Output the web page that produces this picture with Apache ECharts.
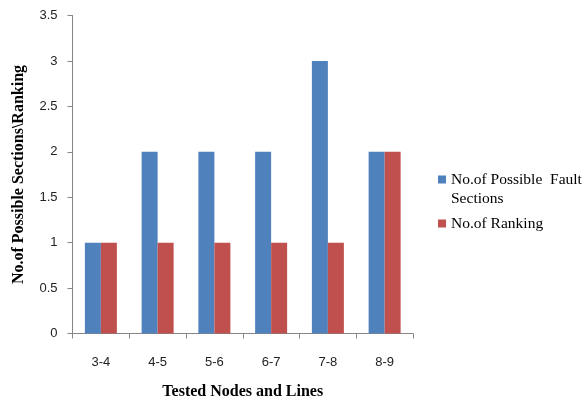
<!DOCTYPE html>
<html>
<head>
<meta charset="utf-8">
<script src="https://cdn.jsdelivr.net/npm/echarts@6/dist/echarts.min.js"></script>
<style>
  html, body { margin: 0; padding: 0; background: #fff; }
  #chart { width: 584px; height: 399px; }
</style>
</head>
<body>
<div id="chart"></div>
<script>
// Tested node pairs / lines
const categories = ['3-4', '4-5', '5-6', '6-7', '7-8', '8-9'];
// Number of possible fault sections per test
const possibleFaultSections = [1, 2, 2, 2, 3, 2];
// Ranking of each test
const ranking = [1, 1, 1, 1, 1, 2];
// Value axis ticks
const yTicks = [0, 0.5, 1, 1.5, 2, 2.5, 3, 3.5];

const seriesNames = ['No.of Possible  Fault Sections', 'No.of Ranking'];
// Legend labels, the first one wrapped onto two lines
const legendLabels = {
  'No.of Possible  Fault Sections': 'No.of Possible  Fault\nSections',
  'No.of Ranking': 'No.of Ranking'
};

const serif = '"Liberation Serif", "Times New Roman", serif';
const sans = '"Liberation Sans", Arial, sans-serif';
const axisGrey = '#868686';

const chart = echarts.init(document.getElementById('chart'), null, { renderer: 'canvas' });

chart.setOption({
  animation: false,
  backgroundColor: '#ffffff',
  grid: {
    left: 72.5, right: 171, top: 15.5, bottom: 65.5,
    containLabel: false,
    outerBoundsMode: 'none'
  },
  legend: {
    orient: 'vertical',
    left: 433,
    top: 146,
    itemWidth: 8,
    itemHeight: 8,
    itemGap: 6,
    icon: 'rect',
    selectedMode: false,
    data: seriesNames,
    // a leading blank line keeps the swatch level with the first text line
    formatter: function (name) {
      const label = legendLabels[name];
      return label.indexOf('\n') >= 0 ? '\n' + label : label;
    },
    textStyle: {
      fontFamily: serif,
      fontSize: 15.5,
      lineHeight: 19,
      color: '#000'
    }
  },
  xAxis: {
    type: 'category',
    data: categories,
    name: 'Tested Nodes and Lines',
    nameLocation: 'middle',
    nameGap: 50,
    nameTextStyle: { fontFamily: serif, fontSize: 16, fontWeight: 'bold', color: '#000' },
    axisLine: { lineStyle: { color: axisGrey, width: 1 } },
    axisTick: { show: true, inside: false, length: 5, alignWithLabel: false, lineStyle: { color: axisGrey } },
    axisLabel: { fontFamily: sans, fontSize: 13, color: '#222', margin: 22 },
    splitLine: { show: false }
  },
  yAxis: {
    type: 'value',
    min: yTicks[0],
    max: yTicks[yTicks.length - 1],
    interval: yTicks[1] - yTicks[0],
    name: 'No.of Possible Sections\\Ranking',
    nameLocation: 'middle',
    nameGap: 46,
    nameTextStyle: { fontFamily: serif, fontSize: 16, fontWeight: 'bold', color: '#000' },
    axisLine: { show: true, lineStyle: { color: axisGrey, width: 1 } },
    axisTick: { show: true, inside: false, length: 5, lineStyle: { color: axisGrey } },
    axisLabel: { fontFamily: sans, fontSize: 13, color: '#222', margin: 15 },
    splitLine: { show: false }
  },
  series: [
    {
      name: seriesNames[0],
      type: 'bar',
      data: possibleFaultSections,
      barWidth: 16,
      barGap: '0%',
      itemStyle: { color: '#4F81BD' }
    },
    {
      name: seriesNames[1],
      type: 'bar',
      data: ranking,
      barWidth: 16,
      barGap: '0%',
      itemStyle: { color: '#C0504D' }
    }
  ]
});
</script>
</body>
</html>
